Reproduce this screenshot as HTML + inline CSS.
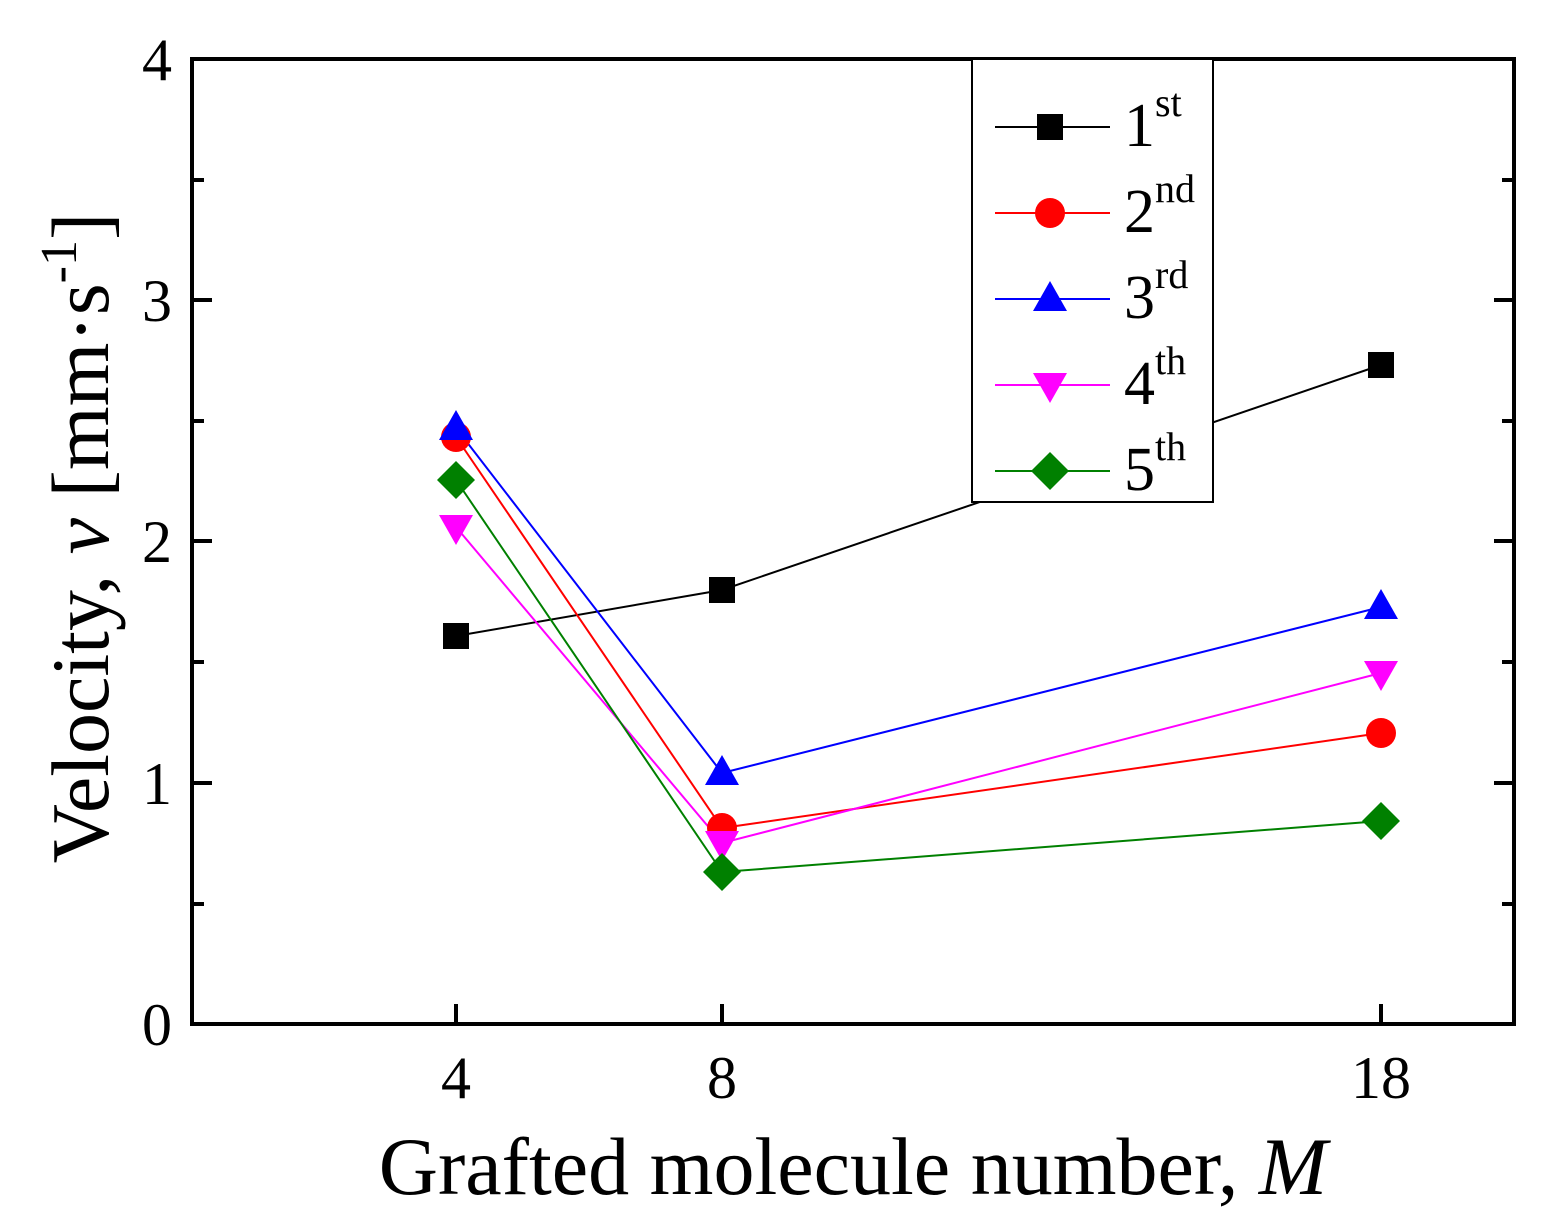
<!DOCTYPE html>
<html><head><style>body{margin:0;background:#fff}</style></head><body>
<svg width="1561" height="1225" xmlns="http://www.w3.org/2000/svg" font-family="Liberation Serif, serif">
<rect width="1561" height="1225" fill="#fff"/>
<g stroke="#000" stroke-width="4" fill="none">
<rect x="192" y="59" width="1322" height="965"/>
<path d="M192 783h20M192 541h20M192 300h20M192 904h12M192 662h12M192 421h12M192 180h12"/>
<path d="M1514 783h-20M1514 541h-20M1514 300h-20M1514 904h-12M1514 662h-12M1514 421h-12M1514 180h-12"/>
<path d="M456 1024v-20M722 1024v-20M1381 1024v-20"/>
</g>
<g font-size="60" text-anchor="end">
<text x="172" y="1045">0</text><text x="172" y="804">1</text><text x="172" y="562">2</text><text x="172" y="321">3</text><text x="172" y="80">4</text>
</g>
<g font-size="60" text-anchor="middle">
<text x="456" y="1098">4</text><text x="722" y="1098">8</text><text x="1381" y="1098">18</text>
</g>
<text x="853" y="1194" font-size="82" text-anchor="middle">Grafted molecule number, <tspan font-style="italic">M</tspan></text>
<text transform="translate(108,538) rotate(-90)" font-size="82" text-anchor="middle">Velocity, <tspan font-style="italic">v</tspan> [mm·s<tspan font-size="52" dy="-32">-1</tspan><tspan dy="32">]</tspan></text>
<g stroke-width="2" fill="none">
<polyline points="456,636 722,590 1381,365" stroke="#000"/>
<polyline points="456,437 722,828 1381,733" stroke="#f00"/>
<polyline points="456,428 722,773 1381,607" stroke="#00f"/>
<polyline points="456,527 722,843 1381,673" stroke="#f0f"/>
<polyline points="456,480 722,872 1381,821" stroke="#008000"/>
</g>
<g fill="#000"><rect x="443" y="623" width="26" height="26"/><rect x="709" y="577" width="26" height="26"/><rect x="1368" y="352" width="26" height="26"/></g>
<g fill="#f00"><circle cx="456" cy="437" r="15"/><circle cx="722" cy="828" r="15"/><circle cx="1381" cy="733" r="15"/></g>
<g fill="#00f"><path d="M456 410l17 30h-34z"/><path d="M722 755l17 30h-34z"/><path d="M1381 589l17 30h-34z"/></g>
<g fill="#f0f"><path d="M456 545l17-30h-34z"/><path d="M722 861l17-30h-34z"/><path d="M1381 691l17-30h-34z"/></g>
<g fill="#008000"><path d="M456 461l19 19-19 19-19-19z"/><path d="M722 853l19 19-19 19-19-19z"/><path d="M1381 802l19 19-19 19-19-19z"/></g>
<rect x="972" y="59" width="241" height="443" fill="#fff" stroke="#000" stroke-width="2"/>
<g stroke-width="2"><path d="M995 127h115" stroke="#000"/><path d="M995 213h115" stroke="#f00"/><path d="M995 299h115" stroke="#00f"/><path d="M995 385h115" stroke="#f0f"/><path d="M995 471h115" stroke="#008000"/></g>
<rect x="1037" y="114" width="26" height="26"/>
<circle cx="1050" cy="213" r="15" fill="#f00"/>
<path d="M1050 281l17 30h-34z" fill="#00f"/>
<path d="M1050 403l17-30h-34z" fill="#f0f"/>
<path d="M1050 452l19 19-19 19-19-19z" fill="#008000"/>
<g font-size="62">
<text x="1124" y="146">1<tspan font-size="40" dy="-30">st</tspan></text>
<text x="1124" y="232">2<tspan font-size="40" dy="-30">nd</tspan></text>
<text x="1124" y="318">3<tspan font-size="40" dy="-30">rd</tspan></text>
<text x="1124" y="404">4<tspan font-size="40" dy="-30">th</tspan></text>
<text x="1124" y="490">5<tspan font-size="40" dy="-30">th</tspan></text>
</g>
</svg>
</body></html>
